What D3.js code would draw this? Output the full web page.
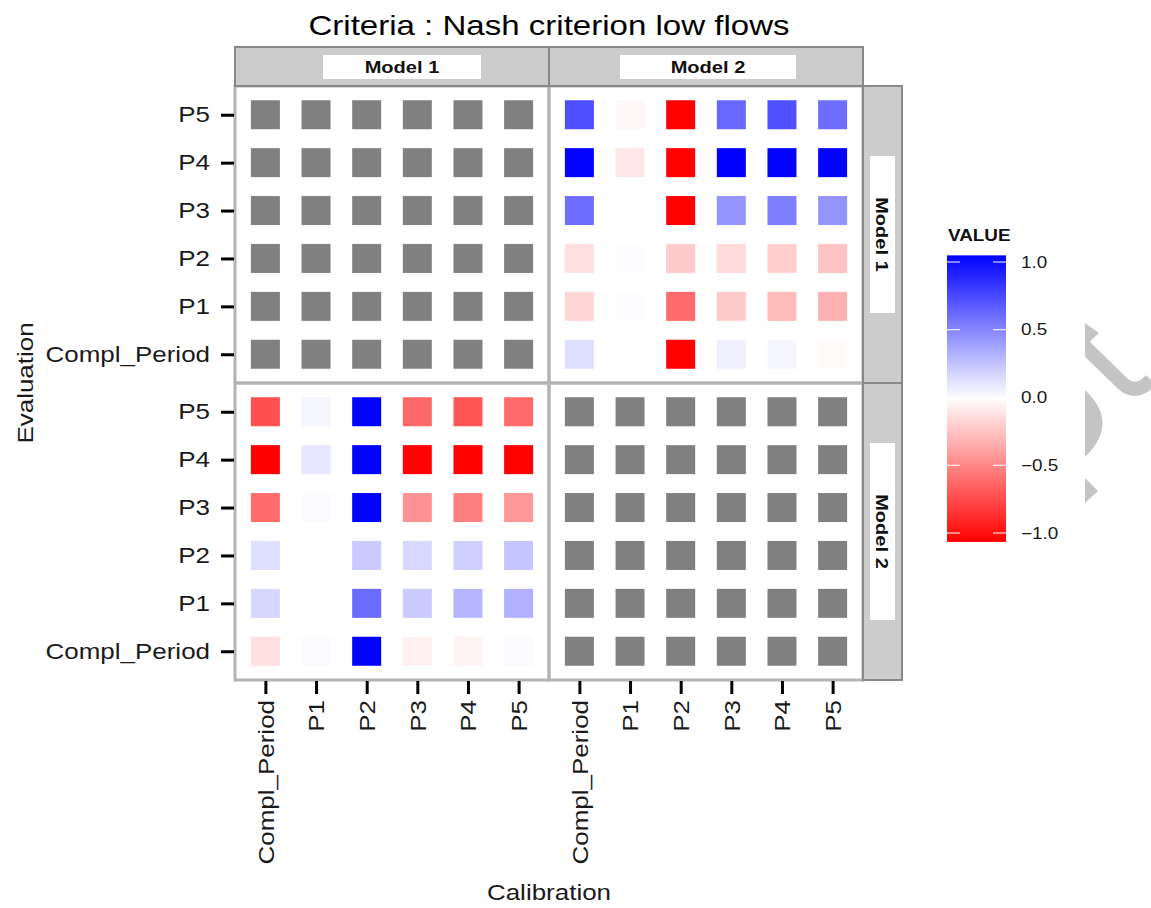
<!DOCTYPE html>
<html>
<head>
<meta charset="utf-8">
<script src="https://d3js.org/d3.v7.min.js"></script>
<style>
  body { margin: 0; background: #fff; }
  text { font-family: "Liberation Sans", Arial, sans-serif; }
</style>
</head>
<body>
<svg id="plot"></svg>
<script>
const WIDTH = 1151;
const HEIGHT = 908;

// Data
const periods = ['Compl_Period', 'P1', 'P2', 'P3', 'P4', 'P5'];
const models = ['Model 1', 'Model 2'];
const legendTicks = [-1.0, -0.5, 0.0, 0.5, 1.0];

// rows = evaluation period (Compl_Period .. P5), columns = calibration period
const evalModel1CalModel2 = [
    [0.13, -0.01, -1.06, 0.06, 0.04, -0.02],
    [-0.18, 0.01, -0.62, -0.22, -0.29, -0.33],
    [-0.13, 0.01, -0.22, -0.15, -0.2, -0.25],
    [0.6, -0.01, -1.06, 0.44, 0.53, 0.44],
    [1.04, -0.1, -1.06, 1.049, 1.04, 1.04],
    [0.73, -0.03, -1.06, 0.62, 0.72, 0.6]
];
const evalModel2CalModel1 = [
    [-0.13, 0.02, 1.04, -0.06, -0.05, 0.02],
    [0.17, -0.01, 0.61, 0.22, 0.3, 0.32],
    [0.13, -0.01, 0.22, 0.16, 0.2, 0.24],
    [-0.61, 0.02, 1.04, -0.45, -0.53, -0.43],
    [-1.066, 0.1, 1.04, -1.06, -1.06, -1.06],
    [-0.73, 0.04, 1.04, -0.63, -0.71, -0.62]
];

const TEXT_STRETCH = 1.18;

function stretch(sel) {
    sel.each(function() {
        let len = this.getComputedTextLength();
        d3.select(this)
            .attr('textLength', len * TEXT_STRETCH)
            .attr('lengthAdjust', 'spacingAndGlyphs');
    });
}

function start() {
    // flatten into cells; diagonal panels have no values
    let cells = [];
    models.forEach(evalModel => {
        models.forEach(calModel => {
            let matrix = null;
            if (evalModel === 'Model 1' && calModel === 'Model 2') matrix = evalModel1CalModel2;
            if (evalModel === 'Model 2' && calModel === 'Model 1') matrix = evalModel2CalModel1;
            periods.forEach((ep, i) => {
                periods.forEach((cp, j) => {
                    cells.push({
                        evalModel: evalModel,
                        calModel: calModel,
                        evalPeriod: ep,
                        calPeriod: cp,
                        value: matrix ? matrix[i][j] : null,
                    });
                });
            });
        });
    });

    let valueRange = d3.extent(cells.filter(d => d.value !== null), d => d.value);

    let svg = d3.select('#plot')
        .attr('width', WIDTH)
        .attr('height', HEIGHT);

    let panelX = d3.scaleBand().domain(models).range([235, 863]);
    let panelY = d3.scaleBand().domain(models).range([86, 680]);

    let color = d3.scaleLinear()
        .domain([valueRange[0], 0, valueRange[1]])
        .range(['#ff0000', '#ffffff', '#0000ff'])
        .clamp(true);

    function xScaleFor(model) {
        let x0 = panelX(model);
        return d3.scalePoint().domain(periods).range([x0, x0 + panelX.bandwidth()]).padding(0.6);
    }
    function yScaleFor(model) {
        let y0 = panelY(model);
        return d3.scalePoint().domain(periods.slice().reverse()).range([y0, y0 + panelY.bandwidth()]).padding(0.6);
    }

    const cellSize = 29;

    // panels
    let panels = [];
    models.forEach(r => models.forEach(c => panels.push({ row: r, col: c })));

    svg.append('g')
        .selectAll('rect')
        .data(panels)
        .enter().append('rect')
            .attr('x', d => panelX(d.col))
            .attr('y', d => panelY(d.row))
            .attr('width', panelX.bandwidth())
            .attr('height', panelY.bandwidth())
            .attr('fill', '#fff');

    svg.append('g')
        .selectAll('rect')
        .data(cells)
        .enter().append('rect')
            .attr('x', d => xScaleFor(d.calModel)(d.calPeriod) - cellSize / 2)
            .attr('y', d => yScaleFor(d.evalModel)(d.evalPeriod) - cellSize / 2)
            .attr('width', cellSize)
            .attr('height', cellSize)
            .attr('fill', d => d.value === null ? '#808080' : color(d.value));

    svg.append('g')
        .selectAll('rect')
        .data(panels)
        .enter().append('rect')
            .attr('x', d => panelX(d.col))
            .attr('y', d => panelY(d.row))
            .attr('width', panelX.bandwidth())
            .attr('height', panelY.bandwidth())
            .attr('fill', 'none')
            .attr('stroke', '#b3b3b3')
            .attr('stroke-width', 3);

    // top strips
    const labelBoxW = { 'Model 1': 158, 'Model 2': 176 };
    const labelBoxOffset = { 'Model 1': 10, 'Model 2': 2 };
    let topStrip = svg.append('g');
    models.forEach(m => {
        let x0 = panelX(m), w = panelX.bandwidth();
        let cx = x0 + w / 2 + labelBoxOffset[m];
        topStrip.append('rect')
            .attr('x', x0).attr('y', 47).attr('width', w).attr('height', 39)
            .attr('fill', '#cccccc').attr('stroke', '#888').attr('stroke-width', 2);
        topStrip.append('rect')
            .attr('x', cx - labelBoxW[m] / 2).attr('y', 55)
            .attr('width', labelBoxW[m]).attr('height', 24)
            .attr('fill', '#fff');
        topStrip.append('text')
            .attr('x', cx).attr('y', 73)
            .attr('text-anchor', 'middle')
            .style('font-size', '17px').style('font-weight', 'bold')
            .attr('fill', '#111')
            .text(m)
            .call(stretch);
    });

    // right strips
    const sideBoxH = { 'Model 1': 157, 'Model 2': 177 };
    let sideStrip = svg.append('g');
    models.forEach(m => {
        let y0 = panelY(m), h = panelY.bandwidth();
        let cy = y0 + h / 2;
        sideStrip.append('rect')
            .attr('x', 863).attr('y', y0).attr('width', 39).attr('height', h)
            .attr('fill', '#cccccc').attr('stroke', '#888').attr('stroke-width', 2);
        sideStrip.append('rect')
            .attr('x', 870).attr('y', cy - sideBoxH[m] / 2)
            .attr('width', 25).attr('height', sideBoxH[m])
            .attr('fill', '#fff');
        sideStrip.append('text')
            .attr('transform', `translate(876, ${cy}) rotate(90)`)
            .attr('text-anchor', 'middle')
            .style('font-size', '17px').style('font-weight', 'bold')
            .attr('fill', '#111')
            .text(m)
            .call(stretch);
    });

    // y axes (left column only)
    models.forEach(m => {
        let g = svg.append('g')
            .attr('transform', 'translate(234, 0)')
            .call(d3.axisLeft(yScaleFor(m)).tickSize(13).tickPadding(11));
        g.select('.domain').remove();
        g.selectAll('.tick line').attr('stroke', '#000').attr('stroke-width', 3);
        g.selectAll('.tick text')
            .attr('fill', '#1a1a1a')
            .style('font-size', '22px')
            .style('font-family', '"Liberation Sans", Arial, sans-serif')
            .call(stretch);
    });

    // x axes (bottom row only)
    models.forEach(m => {
        let g = svg.append('g')
            .attr('transform', 'translate(0, 681)')
            .call(d3.axisBottom(xScaleFor(m)).tickSize(13));
        g.select('.domain').remove();
        g.selectAll('.tick line').attr('stroke', '#000').attr('stroke-width', 3);
        g.selectAll('.tick text')
            .attr('fill', '#1a1a1a')
            .attr('transform', 'rotate(-90)')
            .attr('x', -19)
            .attr('y', 0)
            .attr('dy', '0.35em')
            .attr('text-anchor', 'end')
            .style('font-size', '22px')
            .style('font-family', '"Liberation Sans", Arial, sans-serif')
            .call(stretch);
    });

    // titles
    svg.append('text')
        .attr('x', 549).attr('y', 35)
        .attr('text-anchor', 'middle')
        .style('font-size', '28px')
        .attr('fill', '#000')
        .text('Criteria : Nash criterion low flows')
        .call(stretch);

    svg.append('text')
        .attr('x', 549).attr('y', 900)
        .attr('text-anchor', 'middle')
        .style('font-size', '22px')
        .attr('fill', '#1a1a1a')
        .text('Calibration')
        .call(stretch);

    svg.append('text')
        .attr('transform', 'translate(33, 383) rotate(-90)')
        .attr('text-anchor', 'middle')
        .style('font-size', '22px')
        .attr('fill', '#1a1a1a')
        .text('Evaluation')
        .call(stretch);

    // legend
    let legY = d3.scaleLinear().domain([-1, 1]).range([533, 262]);
    let barTop = legY(valueRange[1]);
    let barBottom = legY(valueRange[0]);

    let grad = svg.append('defs').append('linearGradient')
        .attr('id', 'legend-grad')
        .attr('x1', 0).attr('y1', 0).attr('x2', 0).attr('y2', 1);
    d3.range(0, 1.0001, 0.05).forEach(t => {
        let v = valueRange[1] - t * (valueRange[1] - valueRange[0]);
        grad.append('stop').attr('offset', t).attr('stop-color', color(v));
    });

    let legend = svg.append('g');
    legend.append('text')
        .attr('x', 948).attr('y', 241)
        .style('font-size', '16px').style('font-weight', 'bold')
        .attr('fill', '#111')
        .text('VALUE')
        .call(stretch);
    legend.append('rect')
        .attr('x', 947).attr('y', barTop)
        .attr('width', 59).attr('height', barBottom - barTop)
        .attr('fill', 'url(#legend-grad)');
    legend.selectAll('line.l')
        .data(legendTicks)
        .enter().append('line')
            .attr('x1', 947).attr('x2', 960)
            .attr('y1', d => legY(d)).attr('y2', d => legY(d))
            .attr('stroke', '#fff').attr('stroke-width', 1);
    legend.selectAll('line.r')
        .data(legendTicks)
        .enter().append('line')
            .attr('x1', 993).attr('x2', 1006)
            .attr('y1', d => legY(d)).attr('y2', d => legY(d))
            .attr('stroke', '#fff').attr('stroke-width', 1);
    legend.selectAll('text.lab')
        .data(legendTicks)
        .enter().append('text')
            .attr('x', 1021)
            .attr('y', d => legY(d))
            .attr('dy', '0.35em')
            .style('font-size', '16px')
            .attr('fill', '#1a1a1a')
            .text(d => d3.format('.1f')(d).replace('-', '\u2212'))
            .call(stretch);

    // grey watermark fragment at the right edge
    let wm = svg.append('g').attr('fill', '#c4c4c4');
    svg.append('clipPath').attr('id', 'wm-clip')
        .append('rect').attr('x', 1085).attr('y', 0).attr('width', 100).attr('height', HEIGHT);
    wm.attr('clip-path', 'url(#wm-clip)');
    wm.append('path').attr('d', 'M1085,323 L1099,333 L1085,346 Z');
    wm.append('path')
        .attr('d', 'M1078,340 L1122,383 Q1136,396 1151,380')
        .attr('fill', 'none').attr('stroke', '#c4c4c4').attr('stroke-width', 14);
    wm.append('path').attr('d', 'M1085,390 Q1120,423 1085,457 Z');
    wm.append('path').attr('d', 'M1085,478 L1098,491 L1085,503 Z');
}

window.onload = start;
</script>
</body>
</html>
